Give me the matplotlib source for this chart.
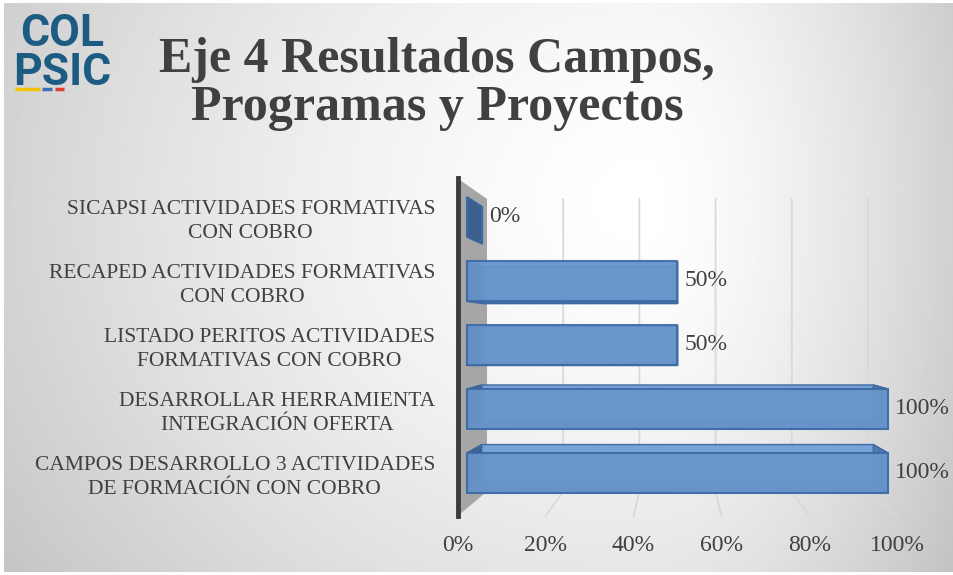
import matplotlib
matplotlib.use("Agg")
import matplotlib.pyplot as plt
from matplotlib.patches import Polygon
import numpy as np

# datos
categorias = [
    "SICAPSI ACTIVIDADES FORMATIVAS\nCON COBRO",
    "RECAPED ACTIVIDADES FORMATIVAS\nCON COBRO",
    "LISTADO PERITOS ACTIVIDADES\nFORMATIVAS CON COBRO",
    "DESARROLLAR HERRAMIENTA\nINTEGRACIÓN OFERTA",
    "CAMPOS DESARROLLO 3 ACTIVIDADES\nDE FORMACIÓN CON COBRO",
]
valores = [0.0, 0.5, 0.5, 1.0, 1.0]
xticks = [0.0, 0.2, 0.4, 0.6, 0.8, 1.0]
xtick_labels = ["0%", "20%", "40%", "60%", "80%", "100%"]
titulo = "Eje 4 Resultados Campos,\nProgramas y Proyectos"

W, H = 954, 575
SERIF = "Liberation Serif"
GRIS = "#404040"

fig = plt.figure(figsize=(W / 100, H / 100), dpi=100)
fig.patch.set_facecolor("white")

# fondo con degradado radial
bg = fig.add_axes([0, 0, 1, 1])
bg.set_xlim(0, W)
bg.set_ylim(H, 0)
bg.axis("off")
Y, X = np.mgrid[0:H, 0:W]
cx, cy = 640, 200
dx = (X - cx) / np.where(X < cx, 700.0, 330.0)
dy = (Y - cy) / 600.0
r = np.clip(np.hypot(dx, dy), 0, 1.25)
img = (255 - 50 * r ** 1.5) / 255.0
bg.imshow(img, extent=(4, W, H - 3, 3), aspect="auto", cmap="gray", vmin=0, vmax=1)

# logo
bg.text(62, 85, "COL\nPSIC", ha="center", va="baseline", multialignment="center",
        fontsize=32, fontweight="bold", family="Roboto", color="#1d5c82", linespacing=0.92)
bg.plot([15, 40], [89, 89], color="#f2c300", lw=2.5, solid_capstyle="butt")
bg.plot([42, 52], [89, 89], color="#3a6fb5", lw=2.5, solid_capstyle="butt")
bg.plot([55, 64], [89, 89], color="#e0402a", lw=2.5, solid_capstyle="butt")

# titulo
fig.text(437 / W, 1 - 84 / H, titulo, ha="center", va="center", fontsize=36,
         fontweight="bold", family=SERIF, color=GRIS, linespacing=1.05)

# ejes principales (plano frontal de las barras)
ax = fig.add_axes([467 / W, (H - 505) / H, 421 / W, 320 / H])
ax.set_xlim(0, 1)
ax.set_ylim(4.5, -0.5)
ax.set_frame_on(False)
ax.patch.set_visible(False)
ax.set_xticks([])
ax.set_yticks(range(len(categorias)))
ax.set_yticklabels(categorias, family=SERIF, fontsize=15.5, color=GRIS)
for t in ax.get_yticklabels():
    t.set_multialignment("center")
    t.set_linespacing(1.3)
ax.tick_params(axis="y", length=0, pad=23)

# perspectiva simple
vx, vy = 0.5, 1.8
k_back, k_bar, k_floor = 0.905, 0.93, 1.045
ymin, ymax = -0.5, 4.55


def proj(x, y, k):
    return (vx + (x - vx) * k, vy + (y - vy) * k)


# pared lateral
wall = [proj(0, ymin, k_floor), proj(0, ymin, k_back), proj(0, ymax, k_back), proj(0, ymax, k_floor)]
ax.add_patch(Polygon(wall, closed=True, facecolor="#a6a6a6", edgecolor="none", zorder=1, clip_on=False))
p0, p1 = proj(0, ymin, k_floor), proj(0, ymax, k_floor)
ax.plot([p0[0], p1[0]], [p0[1], p1[1]], color="#3b3b3b", lw=3.5, zorder=2, clip_on=False)

# lineas de cuadricula y piso
for v in xticks[1:]:
    a, b, c = proj(v, ymin, k_back), proj(v, ymax, k_back), proj(v, ymax, k_floor)
    ax.plot([a[0], b[0], c[0]], [a[1], b[1], c[1]], color="#d9d9d9", lw=1.3, zorder=1, clip_on=False)

# etiquetas del eje x sobre el borde frontal del piso
for v, lab in zip(xticks, xtick_labels):
    ax.annotate(lab, xy=proj(v, ymax, k_floor), xytext=(0, -21), textcoords="offset points",
                ha="center", va="center", family=SERIF, fontsize=17, color=GRIS,
                annotation_clip=False)

# barras 3D
alto = 0.625
borde = "#3d6aa3"
for i, v in enumerate(valores):
    y0, y1 = i - alto / 2, i + alto / 2
    f = [(0, y0), (v, y0), (v, y1), (0, y1)]
    bk = [proj(x, y, k_bar) for x, y in f]
    caras = [
        (bk, "#5d89c2"),
        ([f[0], f[1], bk[1], bk[0]], "#7aa5da"),
        ([f[3], f[2], bk[2], bk[3]], "#4a76b0"),
        ([f[0], f[3], bk[3], bk[0]], "#3d5f8e"),
        ([f[1], f[2], bk[2], bk[1]], "#4e78ad" if v > 0 else "#3d5f8e"),
    ]
    for pts, col in caras:
        ax.add_patch(Polygon(pts, closed=True, facecolor=col, edgecolor=borde, lw=1.0,
                             alpha=0.95, zorder=3, clip_on=False))
    ax.barh(i, v, left=0, height=alto, color="#6b97cd", alpha=0.88, edgecolor=borde,
            lw=1.5, zorder=4, clip_on=False)
    x_lab = max(v, proj(v, i, k_bar)[0])
    ax.annotate(f"{v:.0%}", xy=(x_lab, i), xytext=(5, 0), textcoords="offset points",
                ha="left", va="center", family=SERIF, fontsize=17, color=GRIS,
                annotation_clip=False, zorder=5)

fig.savefig("out.png", dpi=100)
